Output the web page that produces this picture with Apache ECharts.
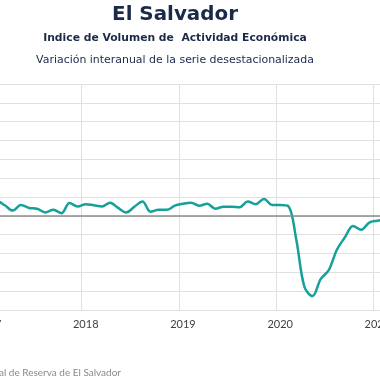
<!DOCTYPE html>
<html><head><meta charset="utf-8">
<script src="https://cdn.jsdelivr.net/npm/echarts@6/dist/echarts.min.js"></script>
<style>html,body{margin:0;padding:0;background:#fff}#c{width:380px;height:380px}</style>
</head><body><div id="c"></div>
<script>
const months = [];
for (let y = 2017; y <= 2021; y++) for (let m = 1; m <= 12; m++) {
  if (y === 2021 && m > 2) break;
  months.push(y + '-' + String(m).padStart(2, '0'));
}
const values2017 = [3.7, 3.9, 2.8, 1.4, 2.9, 2.1, 1.9, 0.9, 1.6, 0.7, 3.4, 2.5];
const values2018 = [3.1, 2.8, 2.5, 3.5, 2.1, 0.9, 2.4, 3.8, 1.1, 1.6, 1.6, 2.7];
const values2019 = [3.2, 3.5, 2.7, 3.2, 1.9, 2.4, 2.4, 2.3, 3.8, 3.1, 4.5, 2.9];
const values2020 = [2.9, 2.6, -6.4, -18.9, -21.3, -16.8, -14.4, -9.0, -5.7, -2.7, -3.7, -1.8];
const values2021 = [-1.3, -1.0];
const values = values2017.concat(values2018, values2019, values2020, values2021);
const titleText = 'El Salvador';
const subtitleText = 'Indice de Volumen de  Actividad Económica';
const subtitle2Text = 'Variación interanual de la serie desestacionalizada';
const sourceText = 'Fuente: Banco Central de Reserva de El Salvador';

// fit a font size so that text spans a target width
const mctx = document.createElement('canvas').getContext('2d');
function fitFont(text, weight, family, targetW) {
  mctx.font = weight + ' 20px ' + family;
  const w = mctx.measureText(text).width;
  return (20 * targetW / w).toFixed(2);
}
const fam = '"DejaVu Sans"';
const t1 = fitFont(titleText, 'bold', fam, 126);
const t2 = fitFont(subtitleText, 'bold', fam, 264);
const t3 = fitFont(subtitle2Text, 'normal', fam, 278);

const isJan = (i) => months[i].endsWith('-01');
const chart = echarts.init(document.getElementById('c'), null, {renderer: 'canvas'});
chart.setOption({
  animation: false,
  grid: {left: -15.5, right: -9.5, top: 84, bottom: 70, containLabel: false, outerBoundsMode: 'none'},
  xAxis: {
    type: 'category', data: months, boundaryGap: true,
    axisLine: {show: true, lineStyle: {color: '#d9d9d9', width: 1}},
    axisTick: {show: false},
    axisLabel: {interval: (i) => isJan(i), formatter: (v) => v.slice(0, 4), color: '#404040',
      fontFamily: 'Lato', fontSize: 11, margin: 9, hideOverlap: false},
    splitLine: {show: true, interval: (i) => isJan(i), lineStyle: {color: '#e0e0e0', width: 1}}
  },
  yAxis: {
    type: 'value', min: -25, max: 35, interval: 5,
    axisLine: {show: false}, axisTick: {show: false}, axisLabel: {show: false},
    splitLine: {show: true, lineStyle: {color: '#e0e0e0', width: 1}}
  },
  series: [{
    type: 'line', data: values, smooth: 0.35, symbol: 'none',
    lineStyle: {color: '#15a09a', width: 2.5},
    markLine: {silent: true, symbol: 'none', label: {show: false},
      lineStyle: {color: '#8c8c8c', width: 1.5, type: 'solid'}, data: [{yAxis: 0}]}
  }],
  graphic: [
    {type: 'text', x: 175, y: 14.5, style: {text: titleText, fill: '#1b2a48', font: 'bold ' + t1 + 'px ' + fam, align: 'center', verticalAlign: 'middle'}},
    {type: 'text', x: 175, y: 38.5, style: {text: subtitleText, fill: '#1b2a48', font: 'bold ' + t2 + 'px ' + fam, align: 'center', verticalAlign: 'middle'}},
    {type: 'text', x: 175, y: 60.5, style: {text: subtitle2Text, fill: '#1b2a48', font: t3 + 'px ' + fam, align: 'center', verticalAlign: 'middle'}},
    {type: 'text', x: 121, y: 373, style: {text: sourceText, fill: '#8a8a8a', font: '10px Lato', align: 'right', verticalAlign: 'middle'}}
  ]
});
</script></body></html>
